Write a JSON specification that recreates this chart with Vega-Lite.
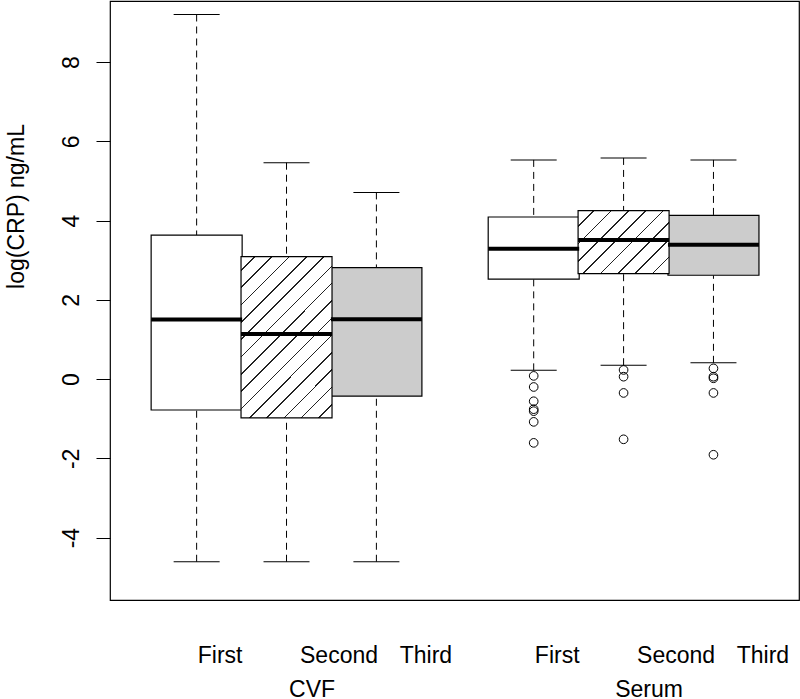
{
  "$schema": "https://vega.github.io/schema/vega-lite/v6.json",
  "width": 689,
  "height": 599,
  "autosize": {"type": "none"},
  "padding": {"left": 110, "top": 1, "right": 1, "bottom": 99},
  "background": "white",
  "config": {
    "view": {"stroke": "black", "strokeWidth": 1.2},
    "font": "Liberation Sans",
    "axis": {"grid": false},
    "tick": {"opacity": 1},
    "bar": {"opacity": 1}
  },
  "datasets": {
    "boxes": [
      {"group": "CVF", "time": "First", "pos": 1, "lower": -4.61, "q1": -0.78, "median": 1.50, "q3": 3.63, "upper": 9.20},
      {"group": "CVF", "time": "Second", "pos": 2, "lower": -4.61, "q1": -0.98, "median": 1.14, "q3": 3.09, "upper": 5.46},
      {"group": "CVF", "time": "Third", "pos": 3, "lower": -4.61, "q1": -0.43, "median": 1.51, "q3": 2.81, "upper": 4.71},
      {"group": "Serum", "time": "First", "pos": 4.75, "lower": 0.22, "q1": 2.52, "median": 3.29, "q3": 4.09, "upper": 5.53},
      {"group": "Serum", "time": "Second", "pos": 5.75, "lower": 0.35, "q1": 2.66, "median": 3.51, "q3": 4.25, "upper": 5.58},
      {"group": "Serum", "time": "Third", "pos": 6.75, "lower": 0.41, "q1": 2.62, "median": 3.39, "q3": 4.13, "upper": 5.53}
    ],
    "outliers": [
      {"group": "Serum", "time": "First", "pos": 4.75, "value": 0.08},
      {"group": "Serum", "time": "First", "pos": 4.75, "value": -0.20},
      {"group": "Serum", "time": "First", "pos": 4.75, "value": -0.56},
      {"group": "Serum", "time": "First", "pos": 4.75, "value": -0.76},
      {"group": "Serum", "time": "First", "pos": 4.75, "value": -0.81},
      {"group": "Serum", "time": "First", "pos": 4.75, "value": -1.08},
      {"group": "Serum", "time": "First", "pos": 4.75, "value": -1.61},
      {"group": "Serum", "time": "Second", "pos": 5.75, "value": 0.23},
      {"group": "Serum", "time": "Second", "pos": 5.75, "value": 0.06},
      {"group": "Serum", "time": "Second", "pos": 5.75, "value": -0.35},
      {"group": "Serum", "time": "Second", "pos": 5.75, "value": -1.52},
      {"group": "Serum", "time": "Third", "pos": 6.75, "value": 0.27},
      {"group": "Serum", "time": "Third", "pos": 6.75, "value": 0.06},
      {"group": "Serum", "time": "Third", "pos": 6.75, "value": 0.02},
      {"group": "Serum", "time": "Third", "pos": 6.75, "value": -0.35},
      {"group": "Serum", "time": "Third", "pos": 6.75, "value": -1.91}
    ]
  },
  "layer": [
    {
      "data": {"name": "boxes"},
      "mark": {"type": "rule", "stroke": "black", "strokeWidth": 1, "strokeDash": [7, 5]},
      "encoding": {
        "x": {"field": "pos", "type": "quantitative", "scale": {"domain": [0.0917, 7.646], "nice": false, "zero": false},
          "axis": {
            "values": [1, 2, 3, 4.75, 5.75, 6.75],
            "labelExpr": "(datum.value == 1 || datum.value == 4.75) ? 'First' : ((datum.value == 2 || datum.value == 5.75) ? 'Second' : 'Third')",
            "ticks": false, "tickSize": 0, "domain": false,
            "labelFontSize": 23, "labelColor": "black", "labelBaseline": "alphabetic", "labelPadding": 62,
            "labelOffset": {"condition": [{"test": "datum.value == 1 || datum.value == 4.75", "value": 23}, {"test": "datum.value == 2 || datum.value == 5.75", "value": 52}], "value": 49},
            "labelFlush": false, "labelOverlap": false, "title": null, "orient": "bottom"
          }},
        "y": {"field": "upper", "type": "quantitative", "title": "log(CRP) ng/mL", "scale": {"domain": [-5.575, 9.54], "nice": false, "zero": false},
          "axis": {
            "values": [-4, -2, 0, 2, 4, 6, 8], "domain": false,
            "labelExpr": "'' + datum.value",
            "tickSize": 14, "tickColor": "black", "tickWidth": 1,
            "labelAngle": 270, "labelAlign": "center", "labelBaseline": "alphabetic", "labelPadding": 18,
            "labelFontSize": 23, "labelColor": "black",
            "title": "log(CRP) ng/mL", "titleFontSize": 23, "titleFontWeight": "normal", "titleColor": "black",
            "titleAngle": 270, "titleX": -87, "titleY": 205, "titleAlign": "center", "titleBaseline": "alphabetic"
          }},
        "y2": {"field": "q3"}
      }
    },
    {
      "data": {"name": "boxes"},
      "mark": {"type": "rule", "stroke": "black", "strokeWidth": 1, "strokeDash": [7, 5]},
      "encoding": {
        "x": {"field": "pos", "type": "quantitative", "axis": null},
        "y": {"field": "lower", "type": "quantitative", "title": "log(CRP) ng/mL"},
        "y2": {"field": "q1"}
      }
    },
    {
      "data": {"name": "boxes"},
      "mark": {"type": "tick", "orient": "horizontal", "color": "black", "opacity": 1, "size": 46, "thickness": 1},
      "encoding": {
        "x": {"field": "pos", "type": "quantitative", "axis": null},
        "y": {"field": "upper", "type": "quantitative", "title": "log(CRP) ng/mL"}
      }
    },
    {
      "data": {"name": "boxes"},
      "mark": {"type": "tick", "orient": "horizontal", "color": "black", "opacity": 1, "size": 46, "thickness": 1},
      "encoding": {
        "x": {"field": "pos", "type": "quantitative", "axis": null},
        "y": {"field": "lower", "type": "quantitative", "title": "log(CRP) ng/mL"}
      }
    },
    {
      "data": {"name": "boxes"},
      "transform": [{"filter": "datum.time != 'Second'"}],
      "mark": {"type": "bar", "width": 91, "stroke": "black", "strokeWidth": 1.2, "opacity": 1},
      "encoding": {
        "x": {"field": "pos", "type": "quantitative", "axis": null},
        "y": {"field": "q1", "type": "quantitative", "title": "log(CRP) ng/mL"},
        "y2": {"field": "q3"},
        "fill": {"condition": {"test": "datum.time == 'Third'", "value": "#cccccc"}, "value": "white"}
      }
    },
    {
      "data": {"name": "boxes"},
      "transform": [{"filter": "datum.time == 'Second' && datum.group == 'CVF'"}],
      "mark": {"type": "bar", "width": 91, "stroke": "black", "strokeWidth": 1.2, "opacity": 1,
        "fill": {"gradient": "linear", "x1": 0, "y1": 0, "x2": 0.67, "y2": 1.186, "stops": [
          {"offset": 0, "color": "white"},
          {"offset": 0.0512, "color": "white"}, {"offset": 0.0512, "color": "#222"}, {"offset": 0.0575, "color": "#222"}, {"offset": 0.0575, "color": "white"},
          {"offset": 0.1198, "color": "white"}, {"offset": 0.1198, "color": "#222"}, {"offset": 0.1262, "color": "#222"}, {"offset": 0.1262, "color": "white"},
          {"offset": 0.1885, "color": "white"}, {"offset": 0.1885, "color": "#222"}, {"offset": 0.1948, "color": "#222"}, {"offset": 0.1948, "color": "white"},
          {"offset": 0.2571, "color": "white"}, {"offset": 0.2571, "color": "#222"}, {"offset": 0.2635, "color": "#222"}, {"offset": 0.2635, "color": "white"},
          {"offset": 0.3258, "color": "white"}, {"offset": 0.3258, "color": "#222"}, {"offset": 0.3321, "color": "#222"}, {"offset": 0.3321, "color": "white"},
          {"offset": 0.3944, "color": "white"}, {"offset": 0.3944, "color": "#222"}, {"offset": 0.4008, "color": "#222"}, {"offset": 0.4008, "color": "white"},
          {"offset": 0.4631, "color": "white"}, {"offset": 0.4631, "color": "#222"}, {"offset": 0.4694, "color": "#222"}, {"offset": 0.4694, "color": "white"},
          {"offset": 0.5317, "color": "white"}, {"offset": 0.5317, "color": "#222"}, {"offset": 0.5381, "color": "#222"}, {"offset": 0.5381, "color": "white"},
          {"offset": 0.6004, "color": "white"}, {"offset": 0.6004, "color": "#222"}, {"offset": 0.6067, "color": "#222"}, {"offset": 0.6067, "color": "white"},
          {"offset": 0.6690, "color": "white"}, {"offset": 0.6690, "color": "#222"}, {"offset": 0.6754, "color": "#222"}, {"offset": 0.6754, "color": "white"},
          {"offset": 0.7377, "color": "white"}, {"offset": 0.7377, "color": "#222"}, {"offset": 0.7440, "color": "#222"}, {"offset": 0.7440, "color": "white"},
          {"offset": 0.8063, "color": "white"}, {"offset": 0.8063, "color": "#222"}, {"offset": 0.8127, "color": "#222"}, {"offset": 0.8127, "color": "white"},
          {"offset": 0.8750, "color": "white"}, {"offset": 0.8750, "color": "#222"}, {"offset": 0.8813, "color": "#222"}, {"offset": 0.8813, "color": "white"},
          {"offset": 0.9437, "color": "white"}, {"offset": 0.9437, "color": "#222"}, {"offset": 0.9500, "color": "#222"}, {"offset": 0.9500, "color": "white"},
          {"offset": 1, "color": "white"}
        ]}},
      "encoding": {
        "x": {"field": "pos", "type": "quantitative", "axis": null},
        "y": {"field": "q1", "type": "quantitative", "title": "log(CRP) ng/mL"},
        "y2": {"field": "q3"}
      }
    },
    {
      "data": {"name": "boxes"},
      "transform": [{"filter": "datum.time == 'Second' && datum.group == 'Serum'"}],
      "mark": {"type": "bar", "width": 91, "stroke": "black", "strokeWidth": 1.2, "opacity": 1,
        "fill": {"gradient": "linear", "x1": 0, "y1": 0, "x2": 1.144, "y2": 0.792, "stops": [
          {"offset": 0, "color": "white"},
          {"offset": 0.0987, "color": "white"}, {"offset": 0.0987, "color": "#222"}, {"offset": 0.1091, "color": "#222"}, {"offset": 0.1091, "color": "white"},
          {"offset": 0.2110, "color": "white"}, {"offset": 0.2110, "color": "#222"}, {"offset": 0.2214, "color": "#222"}, {"offset": 0.2214, "color": "white"},
          {"offset": 0.3234, "color": "white"}, {"offset": 0.3234, "color": "#222"}, {"offset": 0.3338, "color": "#222"}, {"offset": 0.3338, "color": "white"},
          {"offset": 0.4357, "color": "white"}, {"offset": 0.4357, "color": "#222"}, {"offset": 0.4461, "color": "#222"}, {"offset": 0.4461, "color": "white"},
          {"offset": 0.5481, "color": "white"}, {"offset": 0.5481, "color": "#222"}, {"offset": 0.5584, "color": "#222"}, {"offset": 0.5584, "color": "white"},
          {"offset": 0.6604, "color": "white"}, {"offset": 0.6604, "color": "#222"}, {"offset": 0.6708, "color": "#222"}, {"offset": 0.6708, "color": "white"},
          {"offset": 0.7727, "color": "white"}, {"offset": 0.7727, "color": "#222"}, {"offset": 0.7831, "color": "#222"}, {"offset": 0.7831, "color": "white"},
          {"offset": 0.8851, "color": "white"}, {"offset": 0.8851, "color": "#222"}, {"offset": 0.8955, "color": "#222"}, {"offset": 0.8955, "color": "white"},
          {"offset": 1, "color": "white"}
        ]}},
      "encoding": {
        "x": {"field": "pos", "type": "quantitative", "axis": null},
        "y": {"field": "q1", "type": "quantitative", "title": "log(CRP) ng/mL"},
        "y2": {"field": "q3"}
      }
    },
    {
      "data": {"name": "boxes"},
      "mark": {"type": "tick", "orient": "horizontal", "color": "black", "opacity": 1, "size": 91, "thickness": 4},
      "encoding": {
        "x": {"field": "pos", "type": "quantitative",
          "axis": {
            "values": [2, 5.75],
            "labelExpr": "datum.value < 4 ? 'CVF' : 'Serum'",
            "ticks": false, "tickSize": 0, "domain": false,
            "labelFontSize": 23, "labelColor": "black", "labelBaseline": "alphabetic", "labelPadding": 96,
            "labelOffset": 25, "labelFlush": false, "labelOverlap": false, "title": null, "orient": "bottom"
          }},
        "y": {"field": "median", "type": "quantitative", "title": "log(CRP) ng/mL"}
      }
    },
    {
      "data": {"name": "outliers"},
      "mark": {"type": "point", "shape": "circle", "filled": false, "stroke": "black", "strokeWidth": 1, "size": 75, "opacity": 1},
      "encoding": {
        "x": {"field": "pos", "type": "quantitative", "axis": null},
        "y": {"field": "value", "type": "quantitative", "title": "log(CRP) ng/mL"}
      }
    }
  ],
  "resolve": {"axis": {"x": "independent"}}
}
